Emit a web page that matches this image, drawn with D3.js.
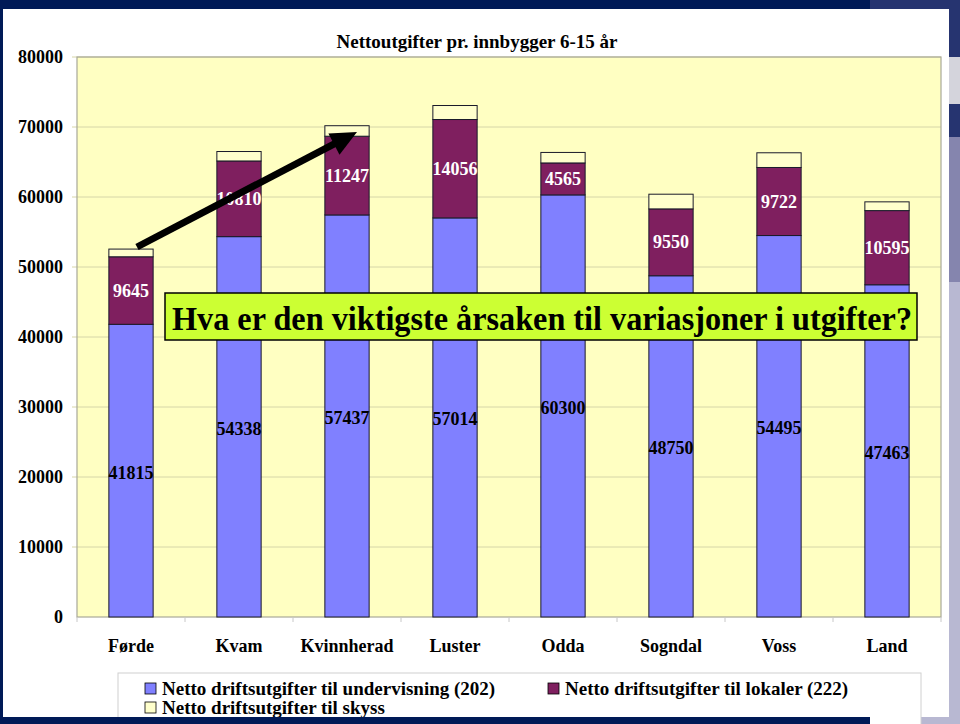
<!DOCTYPE html>
<html><head><meta charset="utf-8">
<script src="https://cdn.jsdelivr.net/npm/d3@7/dist/d3.min.js"></script>
<style>body{margin:0;background:#001a57;overflow:hidden}svg{display:block}</style>
</head><body>
<svg id="c" width="960" height="724"></svg>
<script>
const categories = ["Førde","Kvam","Kvinnherad","Luster","Odda","Sogndal","Voss","Land"];
const undervisning = [41815,54338,57437,57014,60300,48750,54495,47463];
const lokaler = [9645,10810,11247,14056,4565,9550,9722,10595];
const skyss = [1100,1350,1500,2000,1500,2100,2100,1250];
const yTicks = [0,10000,20000,30000,40000,50000,60000,70000,80000];
const seriesNames = ["Netto driftsutgifter til undervisning (202)","Netto driftsutgifter til lokaler (222)","Netto driftsutgifter til skyss"];
const colors = ["#8080ff","#7f1f5f","#ffffcc"];
const title = "Nettoutgifter pr. innbygger 6-15 år";
const callout = "Hva er den viktigste årsaken til variasjoner i utgifter?";

const svg = d3.select("#c");
const F = "'Liberation Serif','Times New Roman',serif";

// slide background / decoration
svg.append("rect").attr("x",0).attr("y",0).attr("width",960).attr("height",724).attr("fill","#001a57");
svg.append("rect").attr("x",870).attr("y",0).attr("width",90).attr("height",9).attr("fill","#263470");
svg.append("rect").attr("x",949).attr("y",0).attr("width",11).attr("height",57).attr("fill","#263470");
svg.append("rect").attr("x",949).attr("y",57).attr("width",11).attr("height",47).attr("fill","#d4d4dc");
svg.append("rect").attr("x",949).attr("y",104).attr("width",11).attr("height",33).attr("fill","#263470");
svg.append("rect").attr("x",949).attr("y",137).attr("width",11).attr("height",145).attr("fill","#8585ae");
svg.append("rect").attr("x",949).attr("y",282).attr("width",11).attr("height",442).attr("fill","#b8b8d2");
svg.append("rect").attr("x",870).attr("y",717).attr("width",90).attr("height",7).attr("fill","#b8b8d2");
svg.append("rect").attr("x",3).attr("y",9).attr("width",946).attr("height",708).attr("fill","#ffffff");

const x = d3.scaleBand().domain(categories).range([77,941]).paddingInner(0.59).paddingOuter(0.295);
const y = d3.scaleLinear().domain([0,80000]).range([617,57]);

// plot area
svg.append("rect").attr("x",77).attr("y",57).attr("width",864).attr("height",560).attr("fill","#ffffc2");
svg.append("g").selectAll("line").data(yTicks.filter(d=>d>0)).join("line")
  .attr("x1",72).attr("x2",941).attr("y1",d=>y(d)).attr("y2",d=>y(d))
  .attr("stroke","#d6d6a8").attr("stroke-width",1);
svg.append("rect").attr("x",77).attr("y",57).attr("width",864).attr("height",560)
  .attr("fill","none").attr("stroke","#a8a898").attr("stroke-width",1.2);

// y axis labels
const yAxis = d3.axisLeft(y).tickValues(yTicks).tickSize(0).tickPadding(14).tickFormat(d3.format("d"));
const ya = svg.append("g").attr("transform","translate(77,0)").call(yAxis);
ya.select(".domain").remove();
ya.selectAll("text").attr("font-family",F).attr("font-size",18).attr("font-weight","bold").attr("fill","#000");

// x axis
const xa = svg.append("g").attr("transform","translate(0,617)");
xa.selectAll("line").data(d3.range(categories.length+1)).join("line")
  .attr("x1",i=>77+i*x.step()).attr("x2",i=>77+i*x.step()).attr("y1",0).attr("y2",5)
  .attr("stroke","#c8c8c8");
xa.selectAll("text").data(categories).join("text")
  .attr("x",d=>x(d)+x.bandwidth()/2).attr("y",35).attr("text-anchor","middle")
  .attr("font-family",F).attr("font-size",18).attr("font-weight","bold").text(d=>d);

// stacked bars
const table = categories.map((c,i)=>({cat:c,u:undervisning[i],l:lokaler[i],s:skyss[i]}));
const stack = d3.stack().keys(["u","l","s"])(table);
const g = svg.append("g");
stack.forEach((layer,k)=>{
  g.selectAll(null).data(layer).join("rect")
    .attr("x",d=>x(d.data.cat)).attr("width",x.bandwidth())
    .attr("y",d=>y(d[1])).attr("height",d=>y(d[0])-y(d[1]))
    .attr("fill",colors[k]).attr("stroke","#1a1a2a").attr("stroke-width",1);
});
// value labels
[0,1].forEach(k=>{
  g.selectAll(null).data(stack[k]).join("text")
    .attr("x",d=>x(d.data.cat)+x.bandwidth()/2).attr("y",d=>(y(d[0])+y(d[1]))/2+(k===0?8:6))
    .attr("text-anchor","middle").attr("font-family",F).attr("font-size",18).attr("font-weight","bold")
    .attr("fill",k===0?"#000":"#fff").text(d=>d[1]-d[0]);
});

// arrow
const ax1=137, ay1=247, ax2=357, ay2=132;
const ang = Math.atan2(ay2-ay1, ax2-ax1);
const hl=26, hw=12;
const bx = ax2-hl*Math.cos(ang), by = ay2-hl*Math.sin(ang);
svg.append("line").attr("x1",ax1).attr("y1",ay1).attr("x2",bx+2*Math.cos(ang)).attr("y2",by+2*Math.sin(ang))
  .attr("stroke","#000").attr("stroke-width",7);
svg.append("polygon").attr("points",[
  [ax2,ay2],
  [bx+hw*Math.sin(ang), by-hw*Math.cos(ang)],
  [bx-hw*Math.sin(ang), by+hw*Math.cos(ang)]
].map(p=>p.join(",")).join(" ")).attr("fill","#000");

// callout
svg.append("rect").attr("x",165).attr("y",293).attr("width",752).attr("height",47)
  .attr("fill","#ccff33").attr("stroke","#000").attr("stroke-width",1.5);
svg.append("text").attr("x",172).attr("y",330)
  .attr("textLength",740).attr("lengthAdjust","spacingAndGlyphs")
  .attr("font-family",F).attr("font-size",33).attr("font-weight","bold").text(callout);

// title
svg.append("text").attr("x",477).attr("y",48).attr("text-anchor","middle")
  .attr("font-family",F).attr("font-size",19).attr("font-weight","bold").text(title);

// legend
const lg = svg.append("g");
lg.append("rect").attr("x",118).attr("y",673).attr("width",803).attr("height",60)
  .attr("fill","#fff").attr("stroke","#d0d0d0");
const lpos = [[145,689],[548,689],[145,708]];
seriesNames.forEach((n,i)=>{
  lg.append("rect").attr("x",lpos[i][0]).attr("y",lpos[i][1]-6).attr("width",11).attr("height",11)
    .attr("fill",colors[i]).attr("stroke","#000").attr("stroke-width",0.8);
  lg.append("text").attr("x",lpos[i][0]+17).attr("y",lpos[i][1]+6)
    .attr("font-family",F).attr("font-size",19).attr("font-weight","bold").text(n);
});
// bottom slide strip over legend
svg.append("rect").attr("x",0).attr("y",717).attr("width",870).attr("height",7).attr("fill","#001a57");
</script>
</body></html>
